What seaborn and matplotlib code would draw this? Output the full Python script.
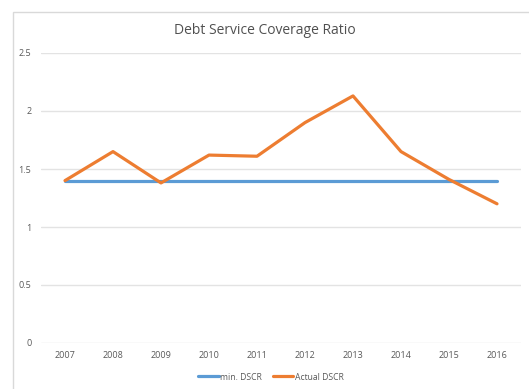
import numpy as np
import pandas as pd
import matplotlib.pyplot as plt
import seaborn as sns
from matplotlib.patches import Rectangle

# data
years = ['2007', '2008', '2009', '2010', '2011', '2012', '2013', '2014', '2015', '2016']
min_dscr = [1.4, 1.4, 1.4, 1.4, 1.4, 1.4, 1.4, 1.4, 1.4, 1.4]
actual_dscr = [1.4, 1.65, 1.38, 1.62, 1.61, 1.9, 2.13, 1.65, 1.41, 1.2]

df = pd.DataFrame({
    'year': years * 2,
    'value': min_dscr + actual_dscr,
    'series': ['min. DSCR'] * len(years) + ['Actual DSCR'] * len(years),
})

sns.set_theme(style='white')
plt.rcParams['font.family'] = ['Open Sans', 'DejaVu Sans']

fig = plt.figure(figsize=(5.29, 3.89), dpi=100)
ax = fig.add_axes([41 / 529, 1 - 343 / 389, (521 - 41) / 529, (343 - 53) / 389])

# chart border (Excel style), runs off the right/bottom edge
fig.patches.append(Rectangle((13 / 529, -0.05), 1.2, 1 - 12 / 389 + 0.05,
                             transform=fig.transFigure, fill=False,
                             edgecolor='#d9d9d9', linewidth=1))

sns.lineplot(data=df, x='year', y='value', hue='series',
             palette=['#5b9bd5', '#ed7d31'], linewidth=2.3, ax=ax, sort=False)

ax.set_xlim(-0.5, len(years) - 0.5)
ax.set_ylim(0, 2.5)
ax.set_yticks([0, 0.5, 1, 1.5, 2, 2.5])
ax.set_yticklabels(['0', '0.5', '1', '1.5', '2', '2.5'])
ax.yaxis.grid(True, color='#e3e3e3', linewidth=1)
ax.set_axisbelow(True)
for s in ax.spines.values():
    s.set_visible(False)
ax.tick_params(axis='both', length=0, labelsize=6.5, labelcolor='#595959')
ax.tick_params(axis='y', pad=7)
ax.tick_params(axis='x', pad=6)
ax.set_xlabel('')
ax.set_ylabel('')

fig.text(0.5, 1 - 30 / 389, 'Debt Service Coverage Ratio', ha='center', va='center',
         fontsize=10, color='#505050')

# legend sits a bit left of the plot centre, as in the original
ax.legend(loc='center', bbox_to_anchor=(0.5 - 10 / 480, (343 - 377) / 290), ncol=2,
          frameon=False, fontsize=6.2, labelcolor='#595959', handlelength=2.4,
          handletextpad=0.2, columnspacing=1.2)

fig.savefig('out.png', dpi=100)
